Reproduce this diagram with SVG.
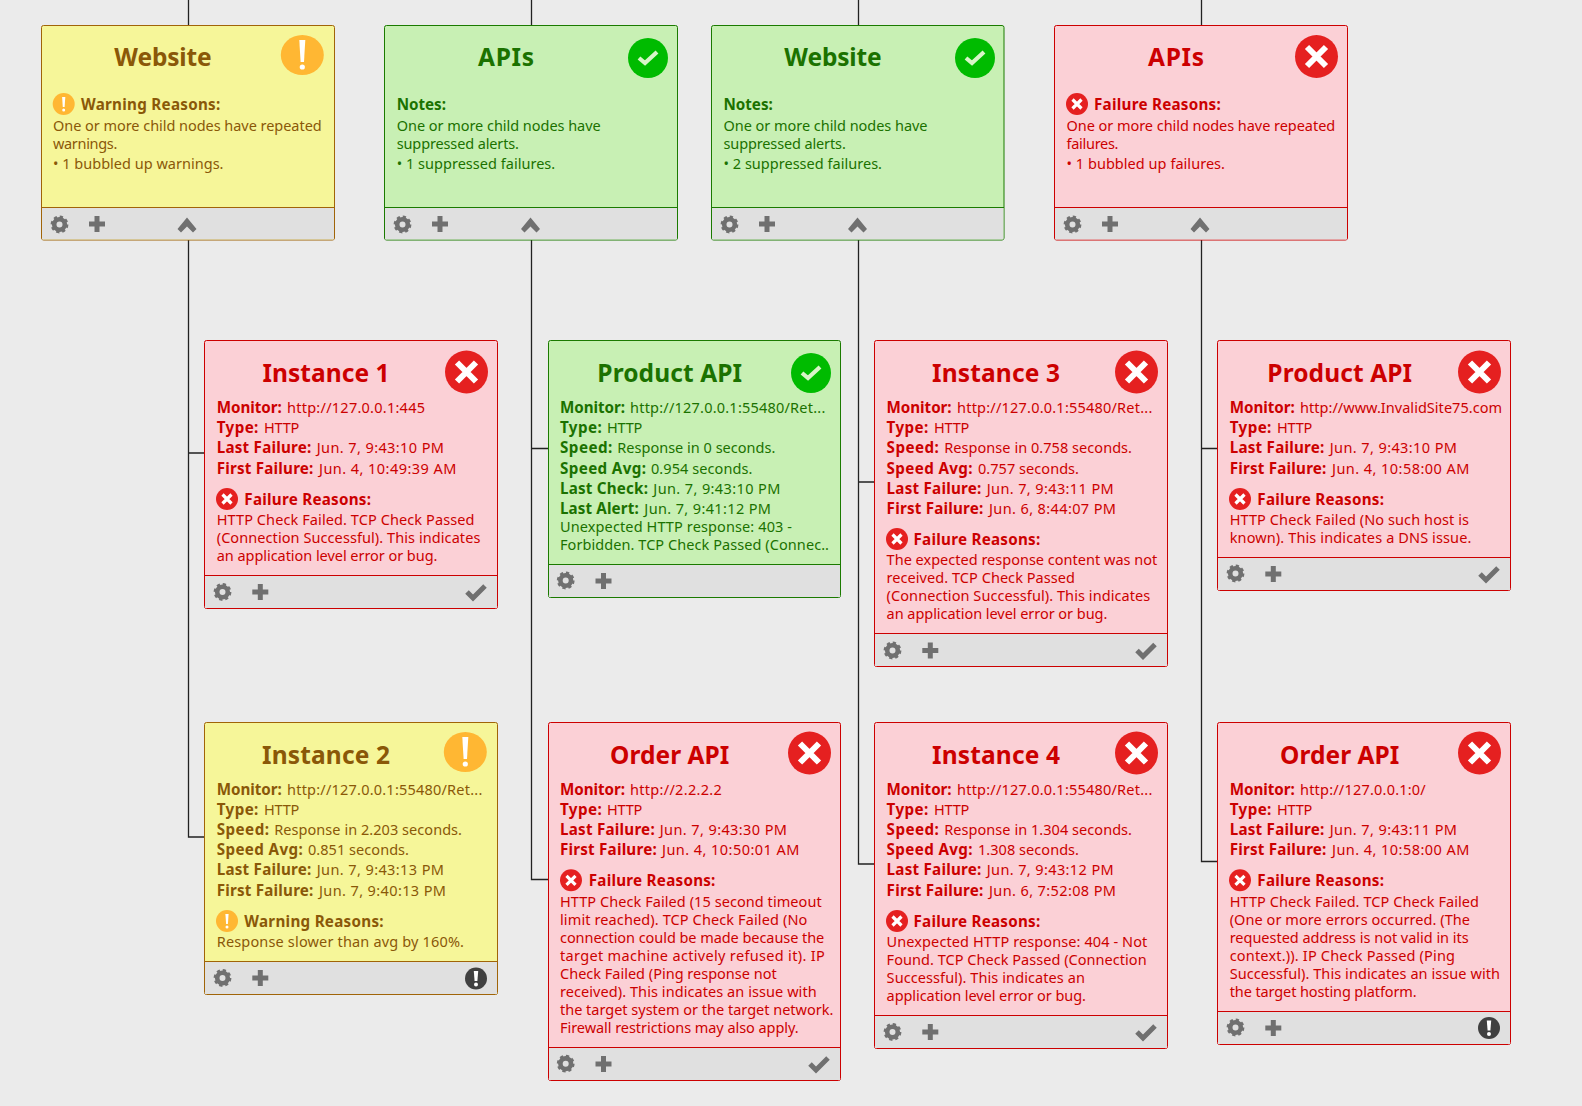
<svg xmlns="http://www.w3.org/2000/svg" width="1582" height="1106" viewBox="0 0 1582 1106">
<style>
text{font-family:"Noto Sans","Open Sans","Liberation Sans",sans-serif;font-size:14.5px}
.t{font-size:24.5px;font-weight:700;text-anchor:middle}
.b{font-weight:700;font-size:15.2px}
.w text{fill:#8a5808}.g text{fill:#1b7200}.r text{fill:#cc0000}
.box{stroke-width:1}
.w .box{fill:#f6f699;stroke:#a06408}.g .box{fill:#c8f0b4;stroke:#1b7a00}.r .box{fill:#fbd0d6;stroke:#cc0000}
.foot{fill:#e0e0e0}
.w .div{stroke:#a06408}.g .div{stroke:#1b7a00}.r .div{stroke:#cc0000}
.con{stroke:#222;stroke-width:1.3;fill:none}
.ic{fill:#707070}
</style>
<defs>
<g id="gear"><circle r="5.3" fill="none" stroke="#707070" stroke-width="4.6"/><circle r="7.6" fill="none" stroke="#707070" stroke-width="2.6" stroke-dasharray="3.2 2.77"/></g>
<g id="plus"><rect x="-8" y="-2.5" width="16" height="5" class="ic"/><rect x="-2.5" y="-8" width="5" height="16" class="ic"/></g>
<path id="chev" class="ic" d="M-9.5 4L0 -7.5L9.5 4L6 7.5L0 1.5L-6 7.5Z"/>
<polyline id="chk" points="-9,0 -3,6 9,-6" fill="none" stroke="#707070" stroke-width="5"/>
<g id="failB"><circle r="21.5" fill="#e52020"/><path d="M-9.5 -9.5L9.5 9.5M9.5 -9.5L-9.5 9.5" stroke="#fff" stroke-width="6"/></g>
<g id="failS"><circle r="11" fill="#e52020"/><path d="M-4.5 -4.5L4.5 4.5M4.5 -4.5L-4.5 4.5" stroke="#fff" stroke-width="3.2"/></g>
<g id="okB"><circle r="20" fill="#00bb00"/><polyline points="-9,0 -3,5 9,-6" fill="none" stroke="#d8f5c8" stroke-width="4.2"/></g>
<g id="warnB"><ellipse rx="21.5" ry="20" fill="#ffb733"/><path d="M-3 -15H3L1.7 7H-1.7Z" fill="#fff"/><circle cy="12" r="2.6" fill="#fff"/></g>
<g id="warnS"><circle r="11" fill="#ffb733"/><path d="M-1.6 -7H1.6L0.9 3H-0.9Z" fill="#fff"/><circle cy="6" r="1.5" fill="#fff"/></g>
<g id="exc"><circle r="11" fill="#404040"/><path d="M-2.2 -7.5H2.2L1.4 2.5H-1.4Z" fill="#fff"/><circle cy="6" r="2" fill="#fff"/></g>
</defs>
<rect width="1582" height="1106" fill="#ebebeb"/>
<g id="connectors" class="con">
<path d="M188.5 0V26M188.5 240V837H204M188.5 453H204"/>
<path d="M531.5 0V26M531.5 240V879.5H548M531.5 448.5H548"/>
<path d="M858.5 0V26M858.5 240V864H874M858.5 482H874"/>
<path d="M1201.5 0V26M1201.5 240V861.5H1217M1201.5 448.5H1217"/>
</g>

<g id="node-website-1" class="w">
<rect class="box" x="41.5" y="25.5" width="293" height="214.5" rx="2"/><rect class="foot" x="42" y="207.5" width="292" height="32"/><path class="div" d="M41.5 207.5H334.5"/>
<text class="t" x="163" y="66" textLength="97.3">Website</text><use href="#warnB" x="302.3" y="55"/>
<use href="#warnS" x="63.7" y="104"/><text class="b" x="81" y="110" textLength="139.3">Warning Reasons:</text>
<text x="53" y="130.7" textLength="268.7">One or more child nodes have repeated</text><text x="53" y="148.7" textLength="64.3">warnings.</text><text x="53" y="168.7" textLength="170.5">• 1 bubbled up warnings.</text>
<use href="#gear" x="59.5" y="224.5"/><use href="#plus" x="97" y="224"/><use href="#chev" x="187" y="225"/>
</g>

<g id="node-apis-1" class="g">
<rect class="box" x="384.5" y="25.5" width="293" height="214.5" rx="2"/><rect class="foot" x="385" y="207.5" width="292" height="32"/><path class="div" d="M384.5 207.5H677.5"/>
<text class="t" x="506" y="66" textLength="56">APIs</text><use href="#okB" x="648" y="58"/>
<text class="b" x="396.7" y="110" textLength="49.3">Notes:</text>
<text x="396.7" y="130.7" textLength="204">One or more child nodes have</text><text x="396.7" y="148.7" textLength="122.3">suppressed alerts.</text><text x="396.7" y="168.7" textLength="158.5">• 1 suppressed failures.</text>
<use href="#gear" x="402.5" y="224.5"/><use href="#plus" x="440" y="224"/><use href="#chev" x="530.5" y="225"/>
</g>

<g id="node-website-2" class="g">
<rect class="box" x="711.5" y="25.5" width="292.5" height="214.5" rx="2"/><rect class="foot" x="712" y="207.5" width="291.5" height="32"/><path class="div" d="M711.5 207.5H1004"/>
<text class="t" x="833" y="66" textLength="97.3">Website</text><use href="#okB" x="975" y="58"/>
<text class="b" x="723.5" y="110" textLength="49.3">Notes:</text>
<text x="723.5" y="130.7" textLength="204">One or more child nodes have</text><text x="723.5" y="148.7" textLength="122.3">suppressed alerts.</text><text x="723.5" y="168.7" textLength="158.5">• 2 suppressed failures.</text>
<use href="#gear" x="729.5" y="224.5"/><use href="#plus" x="767" y="224"/><use href="#chev" x="857.5" y="225"/>
</g>

<g id="node-apis-2" class="r">
<rect class="box" x="1054.5" y="25.5" width="293" height="214.5" rx="2"/><rect class="foot" x="1055" y="207.5" width="292" height="32"/><path class="div" d="M1054.5 207.5H1347.5"/>
<text class="t" x="1176" y="66" textLength="56">APIs</text><use href="#failB" x="1316.5" y="56.5"/>
<use href="#failS" x="1077" y="104"/><text class="b" x="1094" y="110" textLength="126.7">Failure Reasons:</text>
<text x="1066.5" y="130.7" textLength="268.7">One or more child nodes have repeated</text><text x="1066.5" y="148.7" textLength="52">failures.</text><text x="1066.5" y="168.7" textLength="158.5">• 1 bubbled up failures.</text>
<use href="#gear" x="1072.5" y="224.5"/><use href="#plus" x="1110" y="224"/><use href="#chev" x="1200" y="225"/>
</g>

<g id="node-instance-1" class="r">
<rect class="box" x="204.5" y="340.5" width="293" height="268" rx="2"/><rect class="foot" x="205" y="575.5" width="292" height="32.5"/><path class="div" d="M204.5 575.5H497.5"/>
<text class="t" x="326" y="381.7" textLength="127">Instance 1</text><use href="#failB" x="466.5" y="372"/>
<text class="b" x="216.7" y="412.7" textLength="65">Monitor:</text><text x="287" y="412.7" textLength="138">http://127.0.0.1:445</text>
<text class="b" x="216.7" y="433.3" textLength="41.7">Type:</text><text x="264" y="433.3" textLength="35.3">HTTP</text>
<text class="b" x="216.7" y="453.3" textLength="94.7">Last Failure:</text><text x="316.7" y="453.3" textLength="127.3">Jun. 7, 9:43:10 PM</text>
<text class="b" x="216.7" y="474" textLength="96.7">First Failure:</text><text x="319" y="474" textLength="137.3">Jun. 4, 10:49:39 AM</text>
<use href="#failS" x="227" y="499"/><text class="b" x="244.3" y="505" textLength="126.7">Failure Reasons:</text>
<text x="216.7" y="525" textLength="257.7">HTTP Check Failed. TCP Check Passed</text><text x="216.7" y="543.3" textLength="263.7">(Connection Successful). This indicates</text><text x="216.7" y="561.3" textLength="220.7">an application level error or bug.</text>
<use href="#gear" x="222.5" y="592"/><use href="#plus" x="260.3" y="592"/><use href="#chk" x="476" y="592"/>
</g>

<g id="node-instance-2" class="w">
<rect class="box" x="204.5" y="722.5" width="293" height="272" rx="2"/><rect class="foot" x="205" y="961.5" width="292" height="32.5"/><path class="div" d="M204.5 961.5H497.5"/>
<text class="t" x="326" y="764" textLength="128">Instance 2</text><use href="#warnB" x="465.3" y="752"/>
<text class="b" x="216.7" y="795" textLength="65">Monitor:</text><text x="287" y="795" textLength="195.3">http://127.0.0.1:55480/Ret...</text>
<text class="b" x="216.7" y="815" textLength="41.7">Type:</text><text x="264" y="815" textLength="35.3">HTTP</text>
<text class="b" x="216.7" y="835" textLength="52.3">Speed:</text><text x="274.3" y="835" textLength="187.7">Response in 2.203 seconds.</text>
<text class="b" x="216.7" y="855" textLength="86">Speed Avg:</text><text x="308" y="855" textLength="101">0.851 seconds.</text>
<text class="b" x="216.7" y="875" textLength="94.7">Last Failure:</text><text x="316.7" y="875" textLength="127.3">Jun. 7, 9:43:13 PM</text>
<text class="b" x="216.7" y="895.7" textLength="96.7">First Failure:</text><text x="319" y="895.7" textLength="127">Jun. 7, 9:40:13 PM</text>
<use href="#warnS" x="227" y="921"/><text class="b" x="244.3" y="926.7" textLength="139.3">Warning Reasons:</text>
<text x="216.7" y="946.7" textLength="247.3">Response slower than avg by 160%.</text>
<use href="#gear" x="222.5" y="978"/><use href="#plus" x="260.3" y="978"/><use href="#exc" x="476" y="978.5"/>
</g>

<g id="node-product-api-1" class="g">
<rect class="box" x="548.5" y="340.5" width="292" height="257" rx="2"/><rect class="foot" x="549" y="564.5" width="291" height="32.5"/><path class="div" d="M548.5 564.5H840.5"/>
<text class="t" x="669.7" y="381.7" textLength="144.7">Product API</text><use href="#okB" x="811" y="373"/>
<text class="b" x="560" y="412.7" textLength="65">Monitor:</text><text x="630" y="412.7" textLength="195.3">http://127.0.0.1:55480/Ret...</text>
<text class="b" x="560" y="433.3" textLength="41.7">Type:</text><text x="607" y="433.3" textLength="35.3">HTTP</text>
<text class="b" x="560" y="453.3" textLength="52.3">Speed:</text><text x="617.3" y="453.3" textLength="158">Response in 0 seconds.</text>
<text class="b" x="560" y="474" textLength="86">Speed Avg:</text><text x="651" y="474" textLength="101.3">0.954 seconds.</text>
<text class="b" x="560" y="494" textLength="88">Last Check:</text><text x="653.3" y="494" textLength="127">Jun. 7, 9:43:10 PM</text>
<text class="b" x="560" y="514" textLength="78.7">Last Alert:</text><text x="644.3" y="514" textLength="126.7">Jun. 7, 9:41:12 PM</text>
<text x="560" y="531.7" textLength="232">Unexpected HTTP response: 403 -</text><text x="560" y="549.7" textLength="269">Forbidden. TCP Check Passed (Connec..</text>
<use href="#gear" x="565.7" y="580.5"/><use href="#plus" x="603.5" y="581"/>
</g>

<g id="node-order-api-1" class="r">
<rect class="box" x="548.5" y="722.5" width="292" height="358" rx="2"/><rect class="foot" x="549" y="1047.5" width="291" height="32.5"/><path class="div" d="M548.5 1047.5H840.5"/>
<text class="t" x="669.7" y="764" textLength="119.3">Order API</text><use href="#failB" x="809.5" y="753"/>
<text class="b" x="560" y="795" textLength="65">Monitor:</text><text x="630" y="795" textLength="91.7">http://2.2.2.2</text>
<text class="b" x="560" y="815" textLength="41.7">Type:</text><text x="607" y="815" textLength="35.3">HTTP</text>
<text class="b" x="560" y="835" textLength="94.7">Last Failure:</text><text x="659.7" y="835" textLength="127.3">Jun. 7, 9:43:30 PM</text>
<text class="b" x="560" y="855" textLength="96.7">First Failure:</text><text x="662" y="855" textLength="137.3">Jun. 4, 10:50:01 AM</text>
<use href="#failS" x="571" y="880.3"/><text class="b" x="588.7" y="886" textLength="126.7">Failure Reasons:</text>
<text x="560" y="906.7" textLength="261.7">HTTP Check Failed (15 second timeout</text><text x="560" y="924.7" textLength="247.3">limit reached). TCP Check Failed (No</text><text x="560" y="942.7" textLength="264.3">connection could be made because the</text><text x="560" y="960.7" textLength="264.7">target machine actively refused it). IP</text><text x="560" y="978.7" textLength="216.7">Check Failed (Ping response not</text><text x="560" y="996.7" textLength="256.7">received). This indicates an issue with</text><text x="560" y="1014.7" textLength="273.3">the target system or the target network.</text><text x="560" y="1032.7" textLength="238.7">Firewall restrictions may also apply.</text>
<use href="#gear" x="565.7" y="1063.7"/><use href="#plus" x="603.5" y="1064"/><use href="#chk" x="819" y="1064"/>
</g>

<g id="node-instance-3" class="r">
<rect class="box" x="874.5" y="340.5" width="293" height="326" rx="2"/><rect class="foot" x="875" y="633.5" width="292" height="32.5"/><path class="div" d="M874.5 633.5H1167.5"/>
<text class="t" x="996" y="381.7" textLength="128">Instance 3</text><use href="#failB" x="1136.5" y="372"/>
<text class="b" x="886.6" y="412.7" textLength="65">Monitor:</text><text x="957" y="412.7" textLength="195.3">http://127.0.0.1:55480/Ret...</text>
<text class="b" x="886.6" y="433.3" textLength="41.7">Type:</text><text x="934" y="433.3" textLength="35.3">HTTP</text>
<text class="b" x="886.6" y="453.3" textLength="52.3">Speed:</text><text x="944.3" y="453.3" textLength="187.7">Response in 0.758 seconds.</text>
<text class="b" x="886.6" y="474" textLength="86">Speed Avg:</text><text x="978" y="474" textLength="101">0.757 seconds.</text>
<text class="b" x="886.6" y="494" textLength="94.7">Last Failure:</text><text x="986.7" y="494" textLength="127">Jun. 7, 9:43:11 PM</text>
<text class="b" x="886.6" y="514" textLength="96.7">First Failure:</text><text x="989" y="514" textLength="127">Jun. 6, 8:44:07 PM</text>
<use href="#failS" x="897" y="539"/><text class="b" x="913.5" y="545" textLength="126.7">Failure Reasons:</text>
<text x="886.6" y="565" textLength="270.7">The expected response content was not</text><text x="886.6" y="583" textLength="188.3">received. TCP Check Passed</text><text x="886.6" y="601" textLength="263.7">(Connection Successful). This indicates</text><text x="886.6" y="619" textLength="220.7">an application level error or bug.</text>
<use href="#gear" x="892.5" y="650.5"/><use href="#plus" x="930.3" y="650.5"/><use href="#chk" x="1146" y="650.5"/>
</g>

<g id="node-instance-4" class="r">
<rect class="box" x="874.5" y="722.5" width="293" height="326" rx="2"/><rect class="foot" x="875" y="1015.5" width="292" height="32.5"/><path class="div" d="M874.5 1015.5H1167.5"/>
<text class="t" x="996" y="764" textLength="128">Instance 4</text><use href="#failB" x="1136.5" y="753"/>
<text class="b" x="886.6" y="795" textLength="65">Monitor:</text><text x="957" y="795" textLength="195.3">http://127.0.0.1:55480/Ret...</text>
<text class="b" x="886.6" y="815" textLength="41.7">Type:</text><text x="934" y="815" textLength="35.3">HTTP</text>
<text class="b" x="886.6" y="835" textLength="52.3">Speed:</text><text x="944.3" y="835" textLength="187.7">Response in 1.304 seconds.</text>
<text class="b" x="886.6" y="855" textLength="86">Speed Avg:</text><text x="978" y="855" textLength="101">1.308 seconds.</text>
<text class="b" x="886.6" y="875" textLength="94.7">Last Failure:</text><text x="986.7" y="875" textLength="127">Jun. 7, 9:43:12 PM</text>
<text class="b" x="886.6" y="895.7" textLength="96.7">First Failure:</text><text x="989" y="895.7" textLength="127">Jun. 6, 7:52:08 PM</text>
<use href="#failS" x="897" y="921"/><text class="b" x="913.5" y="926.7" textLength="126.7">Failure Reasons:</text>
<text x="886.6" y="946.7" textLength="260.7">Unexpected HTTP response: 404 - Not</text><text x="886.6" y="964.7" textLength="260">Found. TCP Check Passed (Connection</text><text x="886.6" y="982.7" textLength="198.3">Successful). This indicates an</text><text x="886.6" y="1000.7" textLength="199.3">application level error or bug.</text>
<use href="#gear" x="892.5" y="1032"/><use href="#plus" x="930.3" y="1032"/><use href="#chk" x="1146" y="1032"/>
</g>

<g id="node-product-api-2" class="r">
<rect class="box" x="1217.5" y="340.5" width="293" height="250" rx="2"/><rect class="foot" x="1218" y="557.5" width="292" height="32.5"/><path class="div" d="M1217.5 557.5H1510.5"/>
<text class="t" x="1339.7" y="381.7" textLength="144.7">Product API</text><use href="#failB" x="1479.5" y="372"/>
<text class="b" x="1229.7" y="412.7" textLength="65">Monitor:</text><text x="1300" y="412.7" textLength="202">http://www.InvalidSite75.com</text>
<text class="b" x="1229.7" y="433.3" textLength="41.7">Type:</text><text x="1277" y="433.3" textLength="35.3">HTTP</text>
<text class="b" x="1229.7" y="453.3" textLength="94.7">Last Failure:</text><text x="1329.7" y="453.3" textLength="127.3">Jun. 7, 9:43:10 PM</text>
<text class="b" x="1229.7" y="474" textLength="96.7">First Failure:</text><text x="1332" y="474" textLength="137.3">Jun. 4, 10:58:00 AM</text>
<use href="#failS" x="1240" y="499"/><text class="b" x="1257.3" y="505" textLength="126.7">Failure Reasons:</text>
<text x="1229.7" y="525" textLength="239.3">HTTP Check Failed (No such host is</text><text x="1229.7" y="543.3" textLength="241.7">known). This indicates a DNS issue.</text>
<use href="#gear" x="1235.5" y="573.5"/><use href="#plus" x="1273.3" y="574"/><use href="#chk" x="1489" y="574"/>
</g>

<g id="node-order-api-2" class="r">
<rect class="box" x="1217.5" y="722.5" width="293" height="322" rx="2"/><rect class="foot" x="1218" y="1011.5" width="292" height="32.5"/><path class="div" d="M1217.5 1011.5H1510.5"/>
<text class="t" x="1339.7" y="764" textLength="119.3">Order API</text><use href="#failB" x="1479.5" y="753"/>
<text class="b" x="1229.7" y="795" textLength="65">Monitor:</text><text x="1300" y="795" textLength="125.7">http://127.0.0.1:0/</text>
<text class="b" x="1229.7" y="815" textLength="41.7">Type:</text><text x="1277" y="815" textLength="35.3">HTTP</text>
<text class="b" x="1229.7" y="835" textLength="94.7">Last Failure:</text><text x="1329.7" y="835" textLength="127.3">Jun. 7, 9:43:11 PM</text>
<text class="b" x="1229.7" y="855" textLength="96.7">First Failure:</text><text x="1332" y="855" textLength="137.3">Jun. 4, 10:58:00 AM</text>
<use href="#failS" x="1240" y="880.3"/><text class="b" x="1257.3" y="886" textLength="126.7">Failure Reasons:</text>
<text x="1229.7" y="906.7" textLength="249.3">HTTP Check Failed. TCP Check Failed</text><text x="1229.7" y="924.7" textLength="240.3">(One or more errors occurred. (The</text><text x="1229.7" y="942.7" textLength="239">requested address is not valid in its</text><text x="1229.7" y="960.7" textLength="225.3">context.)). IP Check Passed (Ping</text><text x="1229.7" y="978.7" textLength="270.3">Successful). This indicates an issue with</text><text x="1229.7" y="996.7" textLength="187">the target hosting platform.</text>
<use href="#gear" x="1235.5" y="1027.5"/><use href="#plus" x="1273.3" y="1028"/><use href="#exc" x="1489" y="1028"/>
</g>
</svg>
